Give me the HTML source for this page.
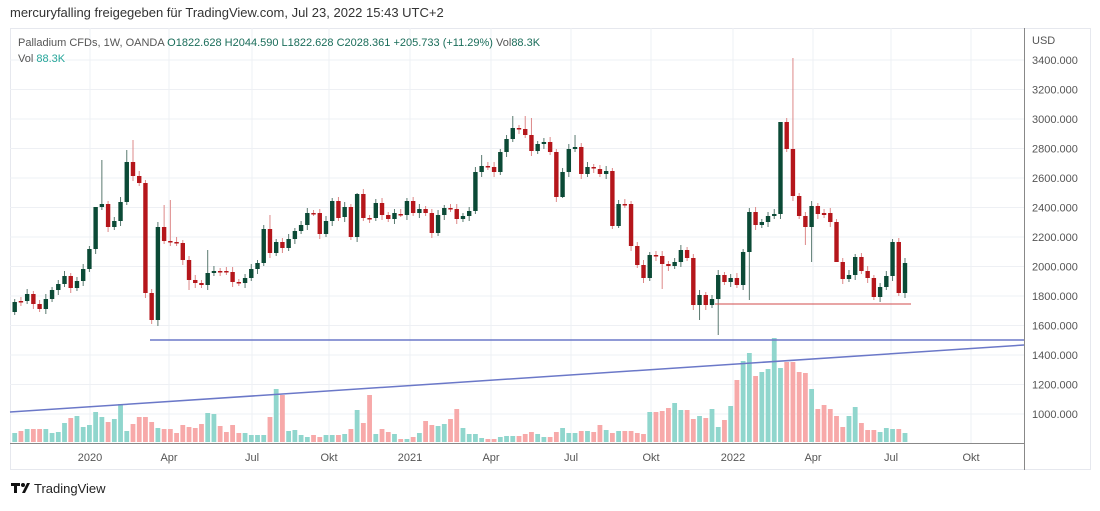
<!DOCTYPE html>
<html><head><meta charset="utf-8"><style>
body{margin:0;background:#fff;width:1100px;height:506px;overflow:hidden;font-family:"Liberation Sans",sans-serif}
</style></head><body>
<svg id="s" width="1100" height="506" xmlns="http://www.w3.org/2000/svg" font-family="Liberation Sans, sans-serif">
<text x="10" y="17" font-size="13" fill="#333">mercuryfalling freigegeben für TradingView.com, Jul 23, 2022 15:43 UTC+2</text>
<rect x="10.5" y="28.5" width="1080" height="441" fill="none" stroke="#e6e8ee"/>
<g id="grid" stroke="#eef0f4" stroke-width="1"></g>
<g id="vol"></g>
<g id="cdl"></g>
<line x1="150" y1="340" x2="1024" y2="340" stroke="#6b78c8" stroke-width="1.5"/>
<line x1="10" y1="412" x2="1024" y2="345" stroke="#6b78c8" stroke-width="1.5"/>
<line x1="715" y1="304" x2="911" y2="304" stroke="#d24b4b" stroke-width="1"/>
<line x1="1024.5" y1="28" x2="1024.5" y2="470" stroke="#888"/>
<line x1="10" y1="443.5" x2="1024" y2="443.5" stroke="#888"/>
<g font-size="11" fill="#555" id="ax"></g>
<text x="1032" y="44" font-size="11" fill="#555">USD</text>
<text x="18" y="46" font-size="11" fill="#555">Palladium CFDs, 1W, OANDA <tspan fill="#1a6d5a">  O1822.628  H2044.590  L1822.628  C2028.361  +205.733 (+11.29%)</tspan>  Vol<tspan fill="#1a6d5a">88.3K</tspan></text>
<text x="18" y="62" font-size="11" fill="#555">Vol <tspan fill="#26a69a">88.3K</tspan></text>
<g fill="#111"><rect x="11" y="483" width="9" height="3"/><rect x="14" y="483" width="3" height="10"/><circle cx="23" cy="485" r="2"/><polygon points="22,493 27,483 30,483 25,493"/></g>
<text x="34" y="493" font-size="13" fill="#222">TradingView</text>
</svg>
<script>
const S='http://www.w3.org/2000/svg';
function el(p,t,a,txt){const e=document.createElementNS(S,t);for(const k in a)e.setAttribute(k,a[k]);if(txt)e.textContent=txt;document.getElementById(p).appendChild(e);}
for(let i=0;i<=12;i++){const y=60+i*29.5;el('grid','line',{x1:10,x2:1024,y1:y,y2:y});el('ax','text',{x:1032,y:y+4},(3400-200*i)+'.000');}
const mx=[[90,'2020'],[169,'Apr'],[252,'Jul'],[329,'Okt'],[410,'2021'],[491,'Apr'],[571,'Jul'],[651,'Okt'],[733,'2022'],[813,'Apr'],[891,'Jul'],[971,'Okt']];
mx.forEach(m=>{el('grid','line',{x1:m[0],x2:m[0],y1:28,y2:443});el('ax','text',{x:m[0],y:461,'text-anchor':'middle'},m[1]);});
const oc=[[312,302],[301,301],[301,294],[294,304],[304,309],[309,299],[299,290],[290,284],[284,276],[276,288],[288,281],[281,269],[269,249],[249,207],[207,204],[204,227],[227,221],[221,202],[202,162],[162,176],[176,183],[183,293],[293,320],[320,227],[227,241],[241,241],[242,243],[243,260],[260,280],[280,283],[283,285],[285,273],[273,271],[271,271],[271,272],[272,282],[282,283],[283,278],[278,269],[269,263],[263,229],[229,253],[253,242],[242,248],[248,239],[239,231],[231,225],[225,213],[213,213],[213,234],[234,221],[221,201],[201,218],
[217,207],[207,237],[237,194],[194,218],[218,218],[218,203],[203,215],[215,219],[219,213],[214,214],[215,201],[201,213],[213,209],[209,213],[213,233],[233,215],[215,208],[208,209],[209,219],[219,216],[216,211],[211,172],[172,166],[166,167],[167,172],[172,152],[152,139],[139,128],[128,129],[129,135],[135,151],[151,144],[144,142],[142,152],[152,197],[197,172],[172,149],[149,147],[147,174],[174,167],[167,168],[169,174],[174,171],[171,226],[226,204],[204,205],[204,246],[246,265],
[265,278],[278,255],[255,256],[256,264],[264,266],[266,262],[262,250],[250,258],[258,305],[305,295],[295,305],[305,299],[299,275],[275,282],[282,278],[278,285],[285,252],[252,212],[212,225],[225,222],[222,216],[216,214],[214,122],[122,149],[149,196],[196,216],[216,227],[227,206],[206,214],[213,215],[213,222],[222,262],[262,279],[279,275],[275,257],[257,271],[271,278],[278,297],[297,287],[287,276],[276,242],[242,293],[293,263]];
const vol=[433,431,429,429,429,429,433,432,423,418,416,427,425,412,417,422,419,404,431,424,417,417,422,428,429,429,433,425,427,428,424,413,414,426,432,425,433,433,435,435,435,417,389,395,431,430,435,437,435,437,435,435,435,
434,429,410,423,395,434,429,432,434,439,439,437,433,421,425,426,424,419,409,428,434,434,438,439,439,437,436,436,436,434,432,434,437,437,432,428,433,433,431,431,432,425,430,433,431,431,431,
433,434,412,412,411,408,403,410,410,419,416,418,409,427,420,406,380,361,353,376,372,369,338,368,362,362,372,373,389,409,405,409,416,427,416,407,423,430,430,432,428,429,429];
const wk={13:[246,null],14:[160,null],18:[150,null],19:[140,null],22:[null,324],23:[null,326],24:[205,null],25:[200,null],28:[null,290],31:[250,null],41:[215,null],55:[193,null],75:[155,null],80:[116,null],82:[116,null],83:[118,null],88:[null,198],90:[135,null],97:[null,228],104:[null,289],110:[null,320],113:[null,335],118:[null,300],123:[160,null],125:[58,null],127:[null,245],128:[null,262],132:[null,258],144:[229,null]};
const sp=(905-14.7)/(oc.length-1);
for(let i=0;i<oc.length;i++){const x=14.7+i*sp;const[o,c]=oc[i];const up=c<o;const col=up?'#0b4a36':'#b5161b';
let hi=Math.min(o,c)-3-(i%3),lo=Math.max(o,c)+3+(i%2)*2;if(wk[i]){if(wk[i][0]!=null)hi=wk[i][0];if(wk[i][1]!=null)lo=wk[i][1];}
el('cdl','line',{x1:x,x2:x,y1:hi,y2:lo,stroke:up?'#5a7a70':'#d88',"stroke-width":1});
el('cdl','rect',{x:x-2.2,y:Math.min(o,c),width:4.4,height:Math.max(1.5,Math.abs(o-c)),fill:col});
const v=vol[i]||433;el('vol','rect',{x:x-2.4,y:v,width:4.8,height:442-v,fill:up?'#90d6cd':'#f7a9a9'});}
</script>
</body></html>
